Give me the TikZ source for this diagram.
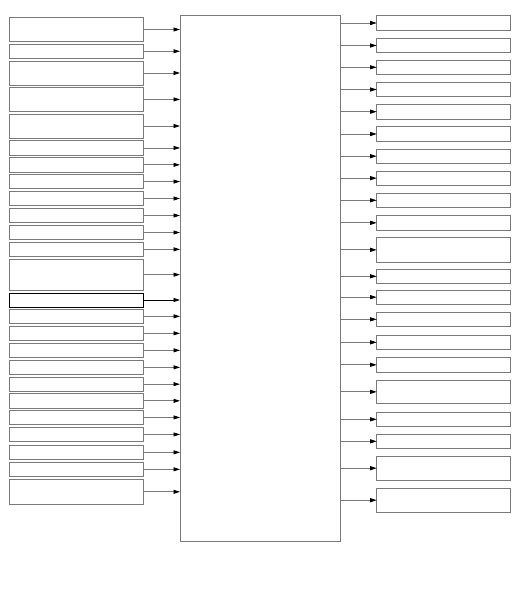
\documentclass[tikz,border=0pt]{standalone}
\usepackage{xcolor}
\usepackage{tikz}
\usetikzlibrary{positioning,arrows.meta}

\definecolor{boxgray}{HTML}{7A7A7A}

\begin{document}
\begin{tikzpicture}[x=1pt, y=-1pt,
    box/.style={draw=boxgray, line width=0.8pt, inner sep=0pt, outer sep=0pt,
        anchor=north west, minimum width=134pt},
    link/.style={draw=boxgray, line width=0.8pt,
        -{Triangle[length=6.5pt,width=4pt,black]}}]

\useasboundingbox (0,0) rectangle (524,596);

% Central block
\node[box, minimum width=160pt, minimum height=525.8pt] (core) at (180,15.5) {};

% Input blocks (left)
\foreach \name/\ytop/\hgt in {l1/17.5/24, l2/44/14.5, l3/61/24, l4/87.7/23.5,
    l5/114/24, l6/140.7/14.5, l7/157.7/14.3, l8/174.3/14.5, l9/191.5/14,
    l10/208.5/14, l11/225.5/14, l12/242.3/14, l13/259.3/30.7,
    l15/309.3/14, l16/326.3/14, l17/343.3/14, l18/360.3/14, l19/377/14.3,
    l20/393.7/14.3, l21/410.3/14.3, l22/427.3/14.3, l23/445.3/14,
    l24/462.3/14, l25/479.7/24.3} {
    \node[box, minimum height=\hgt pt] (\name) at (9.3,\ytop) {};
    \draw[link] (\name.east) -- (\name.east -| core.west);
}

% Highlighted input
\node[box, draw=black, minimum height=14pt] (l14) at (9.3,293) {};
\draw[link, draw=black] (l14.east) -- (l14.east -| core.west);

% Output blocks (right)
\foreach \name/\ytop/\hgt in {r1/15.7/14.6, r2/38.3/14.4, r3/60.3/14,
    r4/82.3/14.4, r5/104.3/14.7, r6/126.7/14.6, r7/149/14.3, r8/171/14.3,
    r9/193.3/14, r10/215.7/14.3, r11/237.7/24.3, r12/269.3/14,
    r13/290/14.3, r14/312/14.7, r15/335/14.7, r16/357.3/15, r17/380/23.7,
    r18/412/14.7, r19/434/14.7, r20/456/24.3, r21/488/24.3} {
    \node[box, minimum height=\hgt pt] (\name) at (376.7,\ytop) {};
    \draw[link] (\name.west -| core.east) -- (\name.west);
}

\end{tikzpicture}
\end{document}
